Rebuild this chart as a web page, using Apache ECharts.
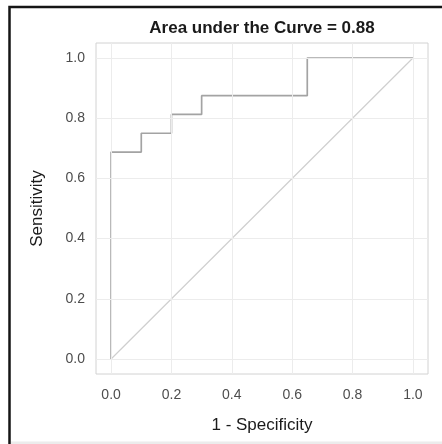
<!DOCTYPE html>
<html>
<head>
<meta charset="utf-8">
<script src="https://cdn.jsdelivr.net/npm/echarts@6/dist/echarts.min.js"></script>
<style>
  html, body { margin: 0; padding: 0; background: #ffffff; }
  #chart { width: 442px; height: 444px; }
</style>
</head>
<body>
<div id="chart"></div>
<script>
// ROC curve: false positive rate (1 - specificity) vs true positive rate (sensitivity)
const fpr = [0, 0, 0.1, 0.2, 0.3, 0.65, 1];
const tpr = [0, 0.6875, 0.75, 0.8125, 0.875, 1, 1];

// Chance (no-skill) reference line
const chanceX = [0, 1];
const chanceY = [0, 1];

// Axis ticks shared by both axes
const tickValues = [0, 0.2, 0.4, 0.6, 0.8, 1.0];
const tickLabels = ['0.0', '0.2', '0.4', '0.6', '0.8', '1.0'];

const aucText = 'Area under the Curve = 0.88';
const xName = '1 - Specificity';
const yName = 'Sensitivity';

const FONT = '"Liberation Sans", Arial, Helvetica, sans-serif';

function pairs(xs, ys) {
  return xs.map((x, i) => [x, ys[i]]);
}

function labelFor(v) {
  const i = tickValues.findIndex(t => Math.abs(t - v) < 1e-9);
  return i >= 0 ? tickLabels[i] : '';
}

function makeAxis(name, gap, rotate, labelMargin) {
  return {
    type: 'value',
    min: -0.05,
    max: 1.05,
    name: name,
    nameLocation: 'middle',
    nameGap: gap,
    nameRotate: rotate,
    nameTextStyle: { fontFamily: FONT, fontSize: 17, color: '#1a1a1a' },
    axisLine: { show: false },
    axisTick: {
      show: true,
      length: 5,
      customValues: tickValues,
      lineStyle: { color: '#c4c4c4', width: 1 }
    },
    axisLabel: {
      customValues: tickValues,
      formatter: labelFor,
      fontFamily: FONT,
      fontSize: 14,
      color: '#4d4d4d',
      margin: labelMargin
    },
    splitLine: { show: false }
  };
}

const chart = echarts.init(document.getElementById('chart'), null, { renderer: 'canvas' });

chart.setOption({
  animation: false,
  backgroundColor: '#ffffff',
  title: {
    text: aucText,
    left: 262,
    top: 20,
    textAlign: 'center',
    padding: 0,
    textStyle: { fontFamily: FONT, fontSize: 17, fontWeight: 'bold', color: '#1a1a1a' }
  },
  grid: {
    left: 96,
    top: 43,
    right: 14,
    bottom: 70,
    show: true,
    borderColor: '#d2d2d2',
    borderWidth: 1,
    backgroundColor: 'transparent'
  },
  xAxis: makeAxis(xName, 43, 0, 14),
  yAxis: makeAxis(yName, 50, 90, 11),
  series: [
    {
      // major grid lines
      type: 'line',
      data: [],
      silent: true,
      z: 1,
      markLine: {
        silent: true,
        symbol: 'none',
        label: { show: false },
        lineStyle: { color: '#ececec', width: 1, type: 'solid' },
        data: tickValues.map(v => ({ xAxis: v })).concat(tickValues.map(v => ({ yAxis: v })))
      }
    },
    {
      type: 'line',
      data: pairs(chanceX, chanceY),
      showSymbol: false,
      silent: true,
      z: 2,
      lineStyle: { color: '#cfcfcf', width: 1.2 }
    },
    {
      type: 'line',
      data: pairs(fpr, tpr),
      step: 'end',
      showSymbol: false,
      silent: true,
      z: 3,
      lineStyle: { color: '#a3a3a3', width: 1.7 }
    }
  ],
  graphic: [
    {
      type: 'polyline',
      silent: true,
      shape: { points: [[9.5, 444], [9.5, 7], [442, 7]] },
      style: { stroke: '#151515', lineWidth: 2.5, fill: null }
    },
    {
      type: 'rect',
      silent: true,
      shape: { x: 11, y: 441.5, width: 431, height: 3 },
      style: { fill: '#ececec' }
    }
  ]
});
</script>
</body>
</html>
